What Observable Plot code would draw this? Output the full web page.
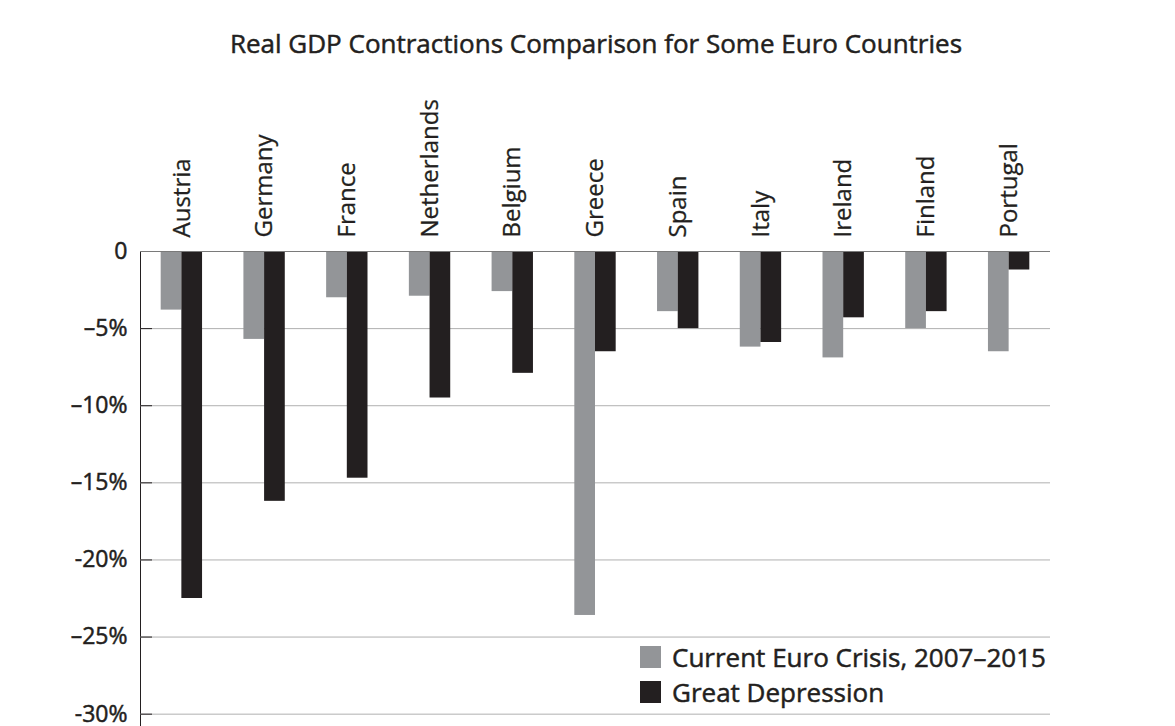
<!DOCTYPE html>
<html><head><meta charset="utf-8">
<script src="https://cdn.jsdelivr.net/npm/d3@7"></script>
<script src="https://cdn.jsdelivr.net/npm/@observablehq/plot@0.6"></script>
<style>
body{margin:0;background:#fff;}
#wrap{position:relative;width:1175px;height:726px;overflow:hidden;background:#fff;}
#title{position:absolute;left:0;top:28px;width:1175px;padding-left:17px;box-sizing:border-box;text-align:center;font:26px "Open Sans", sans-serif;color:#231f20;line-height:1.2;-webkit-text-stroke:0.5px #231f20;}
#chart{position:absolute;left:0;top:80px;}
#legend{position:absolute;left:640px;top:639px;font:26px "Open Sans", sans-serif;color:#231f20;-webkit-text-stroke:0.5px #231f20;}
.item{display:flex;align-items:center;height:35px;}
.sw{width:21px;height:22px;margin-right:11px;}
#chart g[aria-label^="x-axis"] text{font-family:"Open Sans",sans-serif;font-size:24px;fill:#231f20;stroke:#231f20;stroke-width:0.3px;}
#chart g[aria-label^="y-axis"] text{font-family:"Open Sans",sans-serif;font-size:23px;fill:#231f20;stroke:#231f20;stroke-width:0.5px;}
</style></head>
<body><div id="wrap"><div id="title">Real GDP Contractions Comparison for Some Euro Countries</div><div id="chart"></div><div id="legend"></div></div>
<script>
const countries = ["Austria","Germany","France","Netherlands","Belgium","Greece","Spain","Italy","Ireland","Finland","Portugal"];
const euroCrisis = [-3.8,-5.7,-3.0,-2.9,-2.6,-23.6,-3.9,-6.2,-6.9,-5.0,-6.5];
const greatDepression = [-22.5,-16.2,-14.7,-9.5,-7.9,-6.5,-5.0,-5.9,-4.3,-3.9,-1.2];
const seriesNames = ["Current Euro Crisis, 2007–2015","Great Depression"];
const seriesColors = ["#939598","#231f20"];
const yTicks = [0,-5,-10,-15,-20,-25,-30];
const yTickLabels = ["0","–5%","–10%","–15%","-20%","–25%","-30%"];

const rows = countries.flatMap((c,i)=>[
  {country:c, series:seriesNames[0], value:euroCrisis[i]},
  {country:c, series:seriesNames[1], value:greatDepression[i]}
]);

const W = 1175, ML = 140, MR = 125;
const step = (W-ML-MR)/countries.length;
const half = step*0.5/2;

const chart = Plot.plot({
  width: W, height: 646,
  marginLeft: ML, marginRight: MR, marginTop: 171, marginBottom: 0,
  style: {background:"transparent", color:"#231f20"},
  x: {domain: countries, paddingInner: 0.5, paddingOuter: 0.25, round: false, axis: "top", tickRotate: -90, tickSize: 0, tickPadding: 14, label: null},
  y: {domain: [-30.8, 0], ticks: yTicks, tickFormat: d => yTickLabels[yTicks.indexOf(d)], tickSize: 0, tickPadding: 13, label: null, line: true},
  color: {domain: seriesNames, range: seriesColors},
  marks: [
    Plot.ruleY(yTicks.filter(d=>d!==0), {stroke:"#b0b0b0"}),
    Plot.ruleY(yTicks, {stroke:"#231f20", insetRight: W-ML-MR-12}),
    Plot.barY(rows.filter(d=>d.series===seriesNames[0]), {x:"country", y:"value", fill:"series", insetRight: half}),
    Plot.barY(rows.filter(d=>d.series===seriesNames[1]), {x:"country", y:"value", fill:"series", insetLeft: half}),
    Plot.ruleY([0], {stroke:"#7a7a7a"})
  ]
});
document.getElementById("chart").appendChild(chart);

const lg = document.getElementById("legend");
seriesNames.forEach((s,i)=>{
  const it = document.createElement("div"); it.className="item";
  const sw = document.createElement("div"); sw.className="sw"; sw.style.background=seriesColors[i];
  const tx = document.createElement("span"); tx.textContent=s;
  it.appendChild(sw); it.appendChild(tx); lg.appendChild(it);
});
</script></body></html>
